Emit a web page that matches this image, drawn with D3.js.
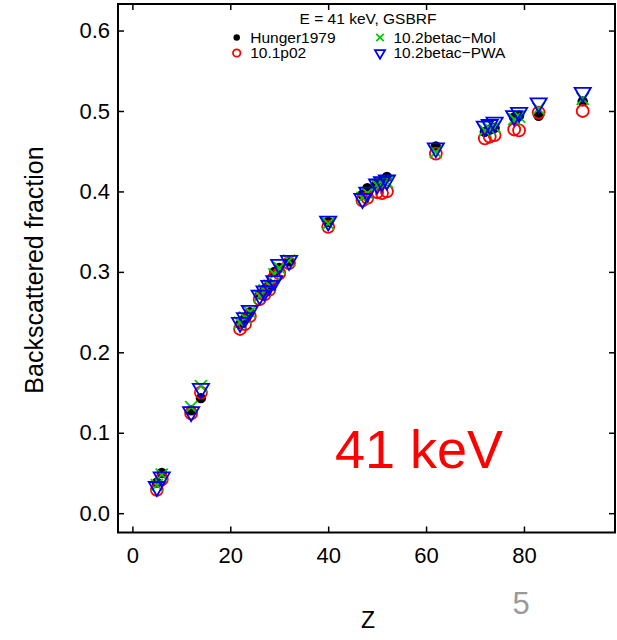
<!DOCTYPE html>
<html>
<head>
<meta charset="utf-8">
<script src="https://cdn.jsdelivr.net/npm/d3@7"></script>
<style>
  html, body { margin: 0; padding: 0; background: #fff; }
  svg { display: block; font-family: "Liberation Sans", Arial, Helvetica, sans-serif; }
</style>
</head>
<body>
<div id="chart"></div>
<script>
// backscattered fraction vs Z, E = 41 keV

const zValues   = [5, 6, 12, 14, 22, 23, 24, 26, 27, 28, 29, 30, 32, 40, 47, 48, 50, 51, 52, 62, 72, 73, 74, 78, 79, 83, 92];
const hunger1979 = [0.038, 0.050, 0.128, 0.143, 0.235, 0.242, 0.250, 0.272, 0.278, 0.285, 0.300, 0.305, 0.313, 0.362, 0.396, 0.404, 0.410, 0.413, 0.418, 0.456, 0.474, 0.477, 0.479, 0.492, 0.494, 0.494, 0.512];
const p102       = [0.029, 0.042, 0.124, 0.150, 0.229, 0.235, 0.245, 0.266, 0.272, 0.278, 0.293, 0.298, 0.311, 0.356, 0.389, 0.392, 0.399, 0.398, 0.400, 0.447, 0.466, 0.468, 0.470, 0.477, 0.476, 0.498, 0.500];
const betacMol   = [0.035, 0.048, 0.132, 0.158, 0.237, 0.243, 0.250, 0.270, 0.277, 0.283, 0.297, 0.305, 0.314, 0.360, 0.392, 0.398, 0.408, 0.410, 0.412, 0.449, 0.476, 0.478, 0.480, 0.490, 0.493, 0.503, 0.515];
const betacPwa   = [0.033, 0.045, 0.126, 0.155, 0.237, 0.243, 0.252, 0.271, 0.276, 0.283, 0.289, 0.309, 0.314, 0.363, 0.391, 0.399, 0.409, 0.412, 0.414, 0.454, 0.481, 0.483, 0.486, 0.494, 0.498, 0.510, 0.523];

const seriesNames = ['Hunger1979', '10.1p02', '10.2betac\u2212Mol', '10.2betac\u2212PWA'];
const legendTitle = 'E = 41 keV, GSBRF';
const xTicks = [0, 20, 40, 60, 80];
const yTicks = [0, 0.1, 0.2, 0.3, 0.4, 0.5, 0.6];

function buildChart() {
  const width = 617, height = 640;
  const box = { left: 118, right: 615, top: 4, bottom: 532.5 };

  const x = d3.scaleLinear().domain([-2.94, 98.6]).range([box.left, box.right]);
  const y = d3.scaleLinear().domain([-0.024, 0.633]).range([box.bottom, box.top]);

  const svg = d3.select('#chart').append('svg')
    .attr('width', width).attr('height', height);

  // markers, R style (radius of pch 1 = 6px)
  const R = 6;
  const shapes = {
    dot:    (g, s) => g.append('circle').attr('r', 5.2 * s).attr('fill', '#000'),
    circle: (g, s) => g.append('circle').attr('r', R * s).attr('fill', 'none')
                       .attr('stroke', '#ff0000').attr('stroke-width', 1.8),
    cross:  (g, s) => g.append('path')
                       .attr('d', `M${-R * s},${-R * s}L${R * s},${R * s}M${-R * s},${R * s}L${R * s},${-R * s}`)
                       .attr('stroke', '#00cd00').attr('stroke-width', 1.8).attr('fill', 'none'),
    tri:    (g, s) => {
      const r = 1.5551 * R * s, xc = 1.3468 * R * s;
      g.append('path')
        .attr('d', `M0,${r}L${xc},${-r / 2}L${-xc},${-r / 2}Z`)
        .attr('stroke', '#0000ee').attr('stroke-width', 1.8).attr('fill', 'none');
    }
  };

  const series = [
    { name: seriesNames[0], values: hunger1979, shape: 'dot' },
    { name: seriesNames[1], values: p102,       shape: 'circle' },
    { name: seriesNames[2], values: betacMol,   shape: 'cross' },
    { name: seriesNames[3], values: betacPwa,   shape: 'tri' }
  ];

  const plot = svg.append('g');
  series.forEach(s => {
    const pts = plot.append('g').selectAll('g')
      .data(zValues.map((z, i) => ({ z, v: s.values[i] })))
      .join('g')
      .attr('transform', d => `translate(${x(d.z)},${y(d.v)})`);
    pts.each(function () { shapes[s.shape](d3.select(this), 1); });
  });

  // axes: ticks inside on all four sides
  const fmtY = d3.format('.1f');
  svg.append('g').attr('transform', `translate(0,${box.bottom})`)
    .call(d3.axisBottom(x).tickValues(xTicks).tickSizeInner(-6).tickSizeOuter(0).tickPadding(15))
    .call(g => g.select('.domain').remove());
  svg.append('g').attr('transform', `translate(0,${box.top})`)
    .call(d3.axisTop(x).tickValues(xTicks).tickSizeInner(-6).tickSizeOuter(0).tickFormat(''))
    .call(g => g.select('.domain').remove());
  svg.append('g').attr('transform', `translate(${box.left},0)`)
    .call(d3.axisLeft(y).tickValues(yTicks).tickFormat(fmtY).tickSizeInner(-6).tickSizeOuter(0).tickPadding(8))
    .call(g => g.select('.domain').remove());
  svg.append('g').attr('transform', `translate(${box.right},0)`)
    .call(d3.axisRight(y).tickValues(yTicks).tickSizeInner(-6).tickSizeOuter(0).tickFormat(''))
    .call(g => g.select('.domain').remove());

  svg.selectAll('.tick line').attr('stroke', '#000').attr('stroke-width', 1.5);
  svg.selectAll('.tick text').attr('fill', '#000').style('font-size', '22px')
    .style('font-family', '"Liberation Sans", Arial, sans-serif');

  svg.append('rect')
    .attr('x', box.left).attr('y', box.top)
    .attr('width', box.right - box.left).attr('height', box.bottom - box.top)
    .attr('fill', 'none').attr('stroke', '#000').attr('stroke-width', 2);

  // axis titles
  svg.append('text')
    .attr('transform', `translate(43,270) rotate(-90)`)
    .attr('text-anchor', 'middle')
    .style('font-size', '25px')
    .text('Backscattered fraction');
  svg.append('text')
    .attr('x', 368).attr('y', 628)
    .attr('text-anchor', 'middle')
    .style('font-size', '23px')
    .text('Z');

  // legend: two columns, filled column-wise
  const lg = svg.append('g').style('font-size', '15.5px');
  lg.append('text').attr('x', 368).attr('y', 24).attr('text-anchor', 'middle').text(legendTitle);
  const cols = [236.7, 380], rows = [37.5, 53];
  series.forEach((s, i) => {
    const col = Math.floor(i / 2), row = i % 2;
    const cell = lg.append('g').attr('transform', `translate(${cols[col]},${rows[row]})`);
    const mk = cell.append('g');
    shapes[s.shape](mk, 0.62);
    cell.append('text').attr('x', 13.5).attr('dy', '0.35em').text(s.name);
  });

  // annotations
  svg.append('text')
    .attr('x', 419).attr('y', 468).attr('text-anchor', 'middle')
    .attr('fill', '#ff0000').style('font-size', '54px')
    .text('41 keV');
  svg.append('text')
    .attr('x', 521).attr('y', 614).attr('text-anchor', 'middle')
    .attr('fill', '#999').style('font-size', '31px')
    .text('5');
}

buildChart();
</script>
</body>
</html>
